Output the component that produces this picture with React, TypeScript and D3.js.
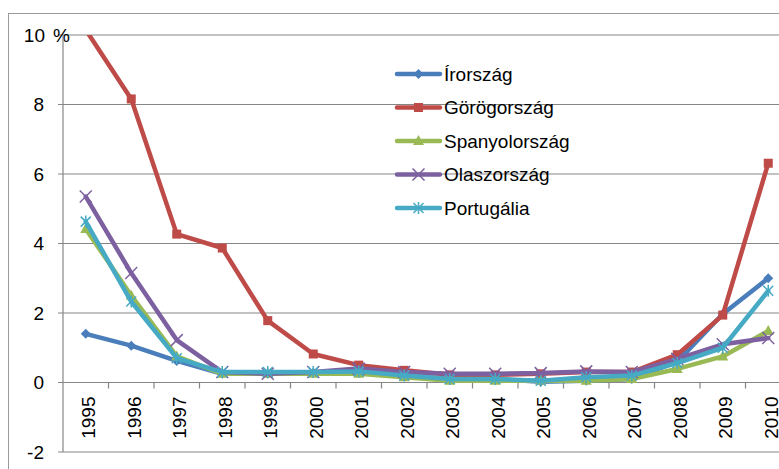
import React from "react";
import * as d3 from "d3";

const years = ["1995","1996","1997","1998","1999","2000","2001","2002","2003","2004","2005","2006","2007","2008","2009","2010"];
const irorszag = [1.40,1.06,0.62,0.25,0.25,0.28,0.28,0.2,0.1,0.1,0.02,0.05,0.1,0.6,1.97,3.0];
const gorogorszag = [10.15,8.16,4.27,3.87,1.78,0.82,0.5,0.35,0.22,0.22,0.25,0.3,0.3,0.8,1.94,6.31];
const spanyolorszag = [4.42,2.5,0.75,0.25,0.25,0.25,0.25,0.15,0.05,0.05,0.05,0.05,0.1,0.39,0.75,1.48];
const olaszorszag = [5.35,3.15,1.22,0.3,0.25,0.3,0.4,0.3,0.25,0.25,0.27,0.32,0.3,0.68,1.1,1.28];
const portugalia = [4.63,2.33,0.7,0.3,0.3,0.3,0.32,0.2,0.1,0.1,0.05,0.15,0.2,0.56,1.0,2.64];
const seriesNames = ["Írország","Görögország","Spanyolország","Olaszország","Portugália"];
const yTicks = [-2,0,2,4,6,8,10];

const colors = ["#4A7EBB","#BE4B48","#98B954","#7D60A0","#46AAC5"];
const markers = ["diamond","square","triangle","x","star"];

function Marker({ kind, x, y, color }: { kind: string; x: number; y: number; color: string }) {
  if (kind === "diamond") {
    return <path d={`M${x},${y-5}L${x+5},${y}L${x},${y+5}L${x-5},${y}Z`} fill={color} />;
  }
  if (kind === "square") {
    return <rect x={x-4.5} y={y-4.5} width={9} height={9} fill={color} />;
  }
  if (kind === "triangle") {
    return <path d={`M${x},${y-6}L${x+5.5},${y+4}L${x-5.5},${y+4}Z`} fill={color} />;
  }
  if (kind === "x") {
    return <path d={`M${x-6},${y-6}L${x+6},${y+6}M${x+6},${y-6}L${x-6},${y+6}`} stroke={color} strokeWidth={1.5} />;
  }
  return (
    <path d={`M${x-5},${y-5}L${x+5},${y+5}M${x+5},${y-5}L${x-5},${y+5}M${x},${y-6}L${x},${y+6}`} stroke={color} strokeWidth={1.5} />
  );
}

export default function App() {
  const W = 779, H = 469;
  const left = 63, bandW = 45.5;
  const x = d3.scaleBand<string>().domain(years).range([left, left + bandW * years.length]);
  const y = d3.scaleLinear().domain([-2, 10]).range([452, 35]);
  const cx = (yr: string) => (x(yr) as number) + x.bandwidth() / 2;
  const data = [irorszag, gorogorszag, spanyolorszag, olaszorszag, portugalia];
  const line = d3.line<number>().x((_, i) => cx(years[i])).y((v) => y(v));
  const font = "'Liberation Sans', Arial, sans-serif";
  const grid = "#868686";
  const legendY = [74, 107.5, 141, 174.5, 208];

  return (
    <svg width={W} height={H} style={{ position: "absolute", left: 0, top: 0, background: "#fff" }} fontFamily={font}>
      <defs>
        <clipPath id="plotClip">
          <rect x={left} y={y(10)} width={W} height={y(-2) - y(10)} />
        </clipPath>
      </defs>
      <rect x={8.5} y={13.5} width={W} height={H} fill="#fff" stroke="#9a9a9a" strokeWidth={1} />
      {yTicks.map((t) => (
        <g key={t}>
          <line x1={58} x2={W + 20} y1={y(t)} y2={y(t)} stroke={grid} strokeWidth={1.2} />
          <text x={t === 10 ? 45 : 44} y={y(t)} dy="0.36em" textAnchor="end" fontSize={19} fill="#000">{t}</text>
        </g>
      ))}
      <text x={53} y={y(10)} dy="0.36em" fontSize={19} fill="#000">%</text>
      <line x1={left} x2={left} y1={y(10)} y2={y(-2)} stroke={grid} strokeWidth={1.2} />
      {years.map((yr, i) => (
        <g key={yr}>
          <line x1={left + bandW * (i + 1)} x2={left + bandW * (i + 1)} y1={y(0)} y2={y(0) + 6} stroke={grid} strokeWidth={1.2} />
          <text transform={`translate(${cx(yr) + 3},${y(0) + 14}) rotate(-90)`} textAnchor="end" dominantBaseline="central" fontSize={19} fill="#000">{yr}</text>
        </g>
      ))}
      <g clipPath="url(#plotClip)">
        {data.map((s, k) => (
          <g key={k}>
            <path d={line(s) as string} fill="none" stroke={colors[k]} strokeWidth={4.5} strokeLinejoin="round" strokeLinecap="round" />
            {s.map((v, i) => (
              <Marker key={i} kind={markers[k]} x={cx(years[i])} y={y(v)} color={colors[k]} />
            ))}
          </g>
        ))}
      </g>
      {seriesNames.map((n, k) => (
        <g key={n}>
          <line x1={397} x2={440} y1={legendY[k]} y2={legendY[k]} stroke={colors[k]} strokeWidth={4.5} strokeLinecap="round" />
          <Marker kind={markers[k]} x={418.5} y={legendY[k]} color={colors[k]} />
          <text x={444} y={legendY[k]} dy="0.36em" fontSize={19} fill="#000">{n}</text>
        </g>
      ))}
    </svg>
  );
}
